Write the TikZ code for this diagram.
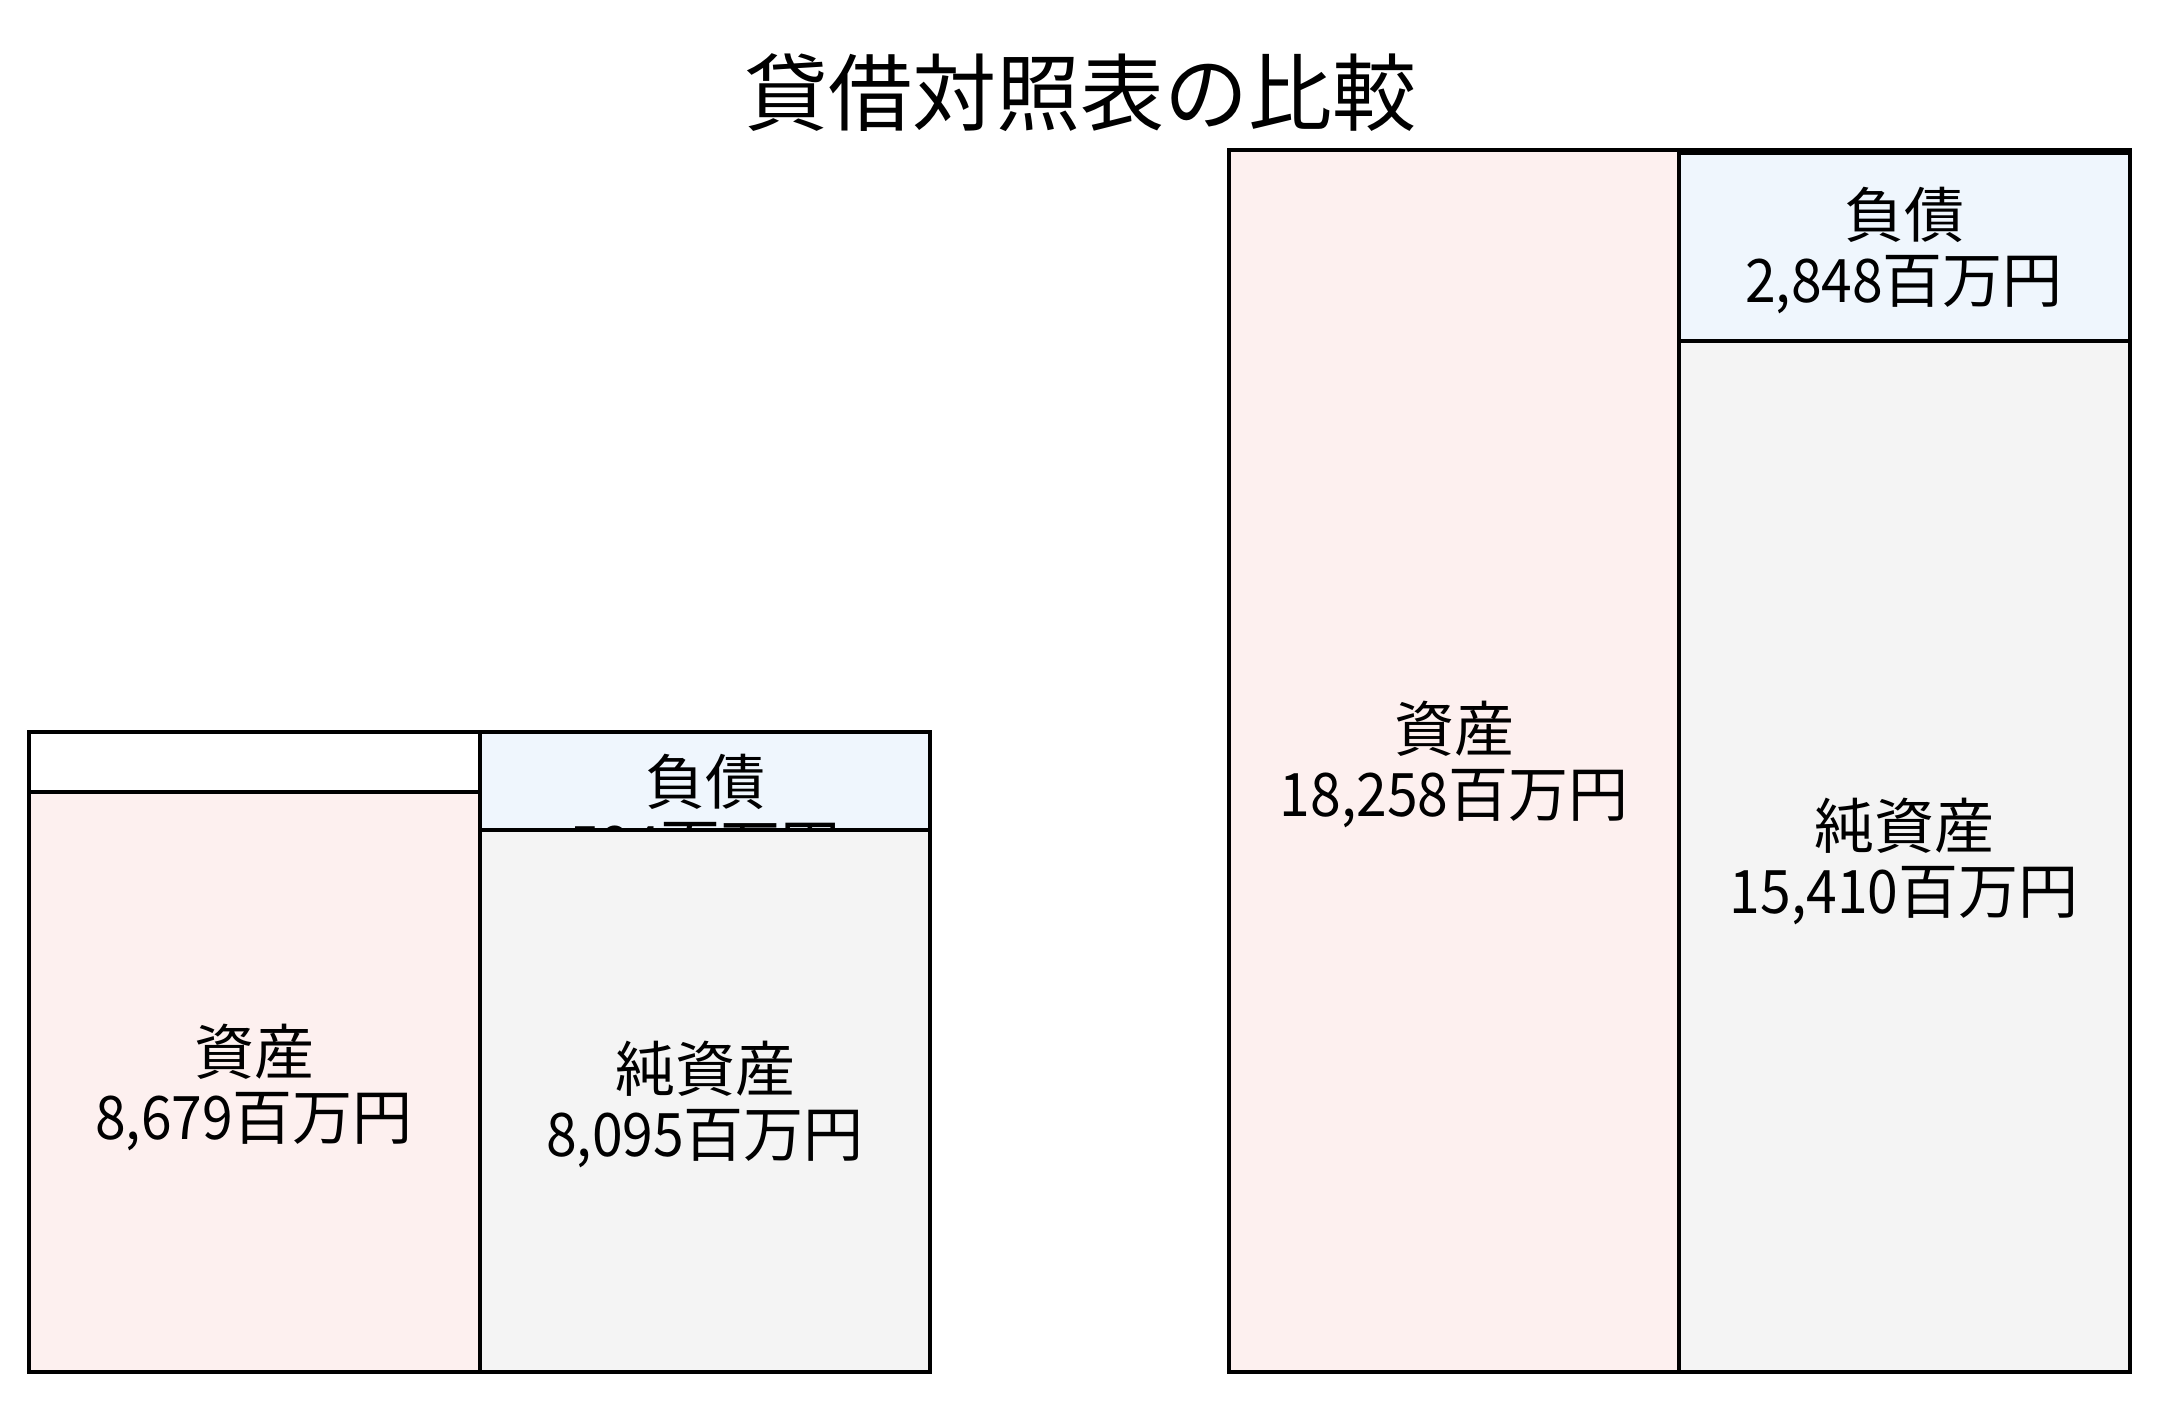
\documentclass[tikz,border=0pt]{standalone}
\usepackage{fontspec}
\setmainfont{Noto Sans CJK JP}
\newfontfamily\numfont[FakeStretch=0.92]{Noto Sans CJK JP}
\newcommand{\amt}[1]{{\numfont #1}}
\definecolor{assetpink}{RGB}{253,240,239}
\definecolor{liabblue}{RGB}{239,246,253}
\definecolor{netgray}{RGB}{244,244,244}
\tikzset{
  frame/.style={draw=black, line width=2pt, fill=white},
  assetbox/.style={draw=black, line width=2pt, fill=assetpink},
  liabbox/.style={draw=black, line width=2pt, fill=liabblue},
  netbox/.style={draw=black, line width=2pt, fill=netgray},
  lbl/.style={align=center, inner sep=0pt, font=\fontsize{30}{32.5}\selectfont},
  ttl/.style={inner sep=0pt, font=\fontsize{42}{46}\selectfont}
}
\begin{document}
\begin{tikzpicture}[x=0.5pt,y=-0.5pt]
\useasboundingbox (0,0) rectangle (2160,1402);
\fill[white] (0,0) rectangle (2160,1402);
% title
\node[ttl] (title) at (1080,93) {貸借対照表の比較};
% ---- left chart ----
\draw[frame] (29,732) rectangle (930,1372);
\draw[assetbox] (29,792) rectangle (480,1372);
\draw[liabbox] (480,732) rectangle (930,830);
\node[lbl] (Lliab) at (705,814) {負債\\\amt{584}百万円};
\draw[netbox] (480,830) rectangle (930,1372);
\node[lbl] (Lasset) at (254,1087) {資産\\\amt{8,679}百万円};
\node[lbl] (Lnet) at (705,1104) {純資産\\\amt{8,095}百万円};
\draw[line width=2pt] (29,1372) -- (930,1372);
% ---- right chart ----
\draw[frame] (1229,150) rectangle (2130,1372);
\draw[assetbox] (1229,150) rectangle (1679,1372);
\draw[liabbox] (1679,153) rectangle (2130,341);
\node[lbl] (Rliab) at (1904,251) {負債\\\amt{2,848}百万円};
\draw[netbox] (1679,341) rectangle (2130,1372);
\node[lbl] (Rasset) at (1454,764) {資産\\\amt{18,258}百万円};
\node[lbl] (Rnet) at (1904,861) {純資産\\\amt{15,410}百万円};
\draw[line width=2pt] (1229,1372) -- (2130,1372);
\end{tikzpicture}
\end{document}
